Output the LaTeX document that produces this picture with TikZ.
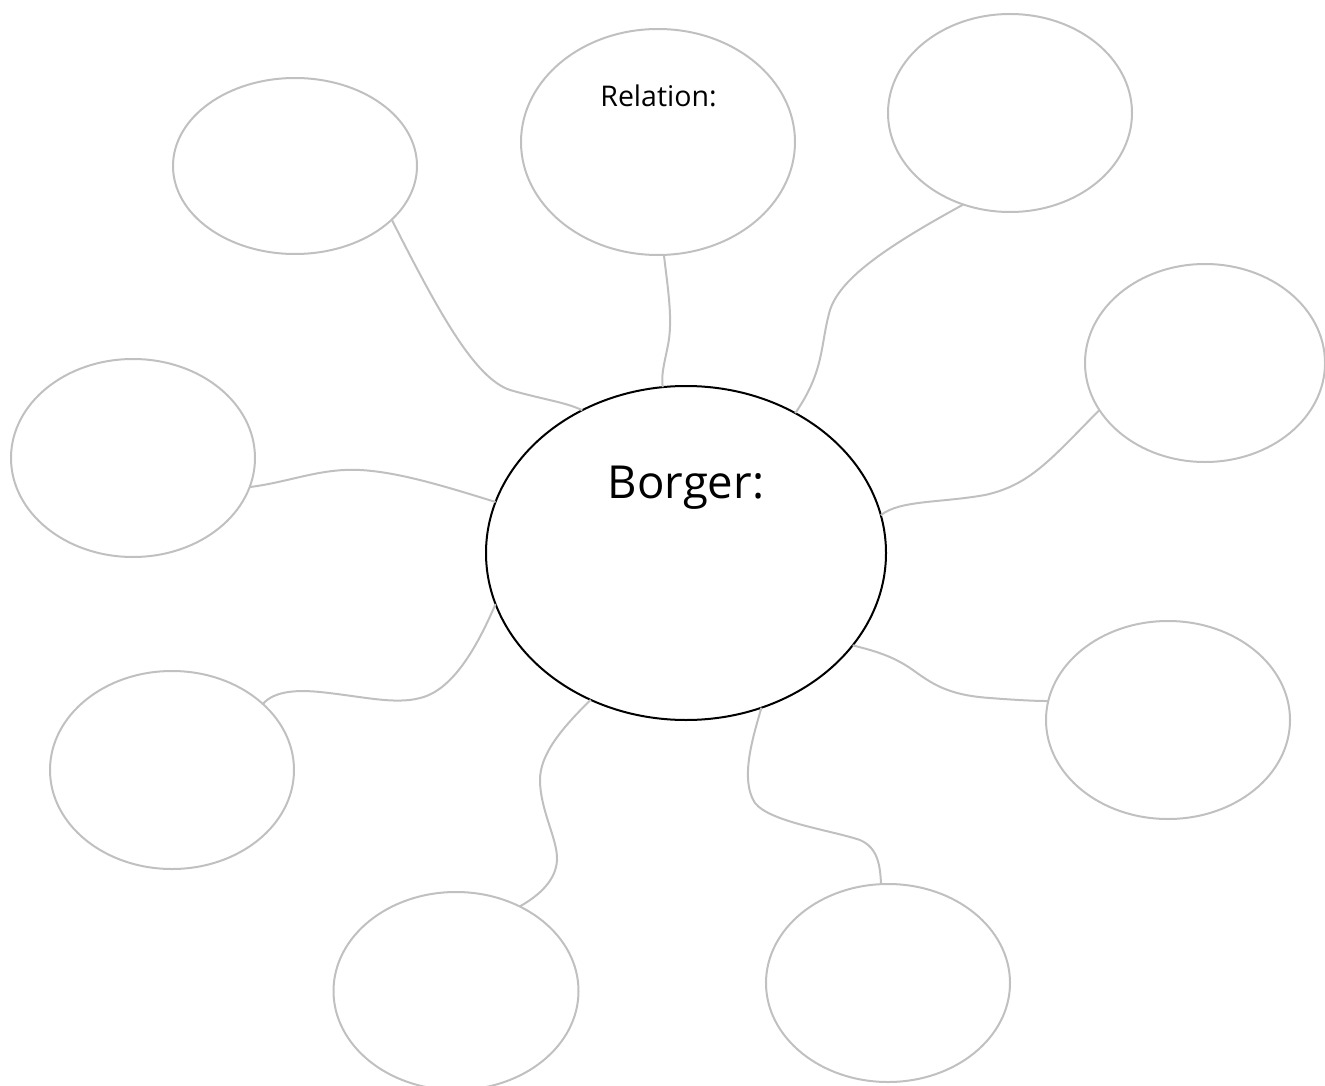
\documentclass[tikz,border=0pt]{standalone}
\usepackage{fontspec}
\setmainfont{Open Sans}
\usetikzlibrary{shapes.geometric}
\definecolor{linegray}{RGB}{192,192,192}
\tikzset{
  bubble/.style={ellipse, draw=linegray, line width=2pt, inner sep=0pt, outer sep=0pt},
  hub/.style={ellipse, draw=black, line width=2pt, inner sep=0pt, outer sep=0pt},
  link/.style={draw=linegray, line width=2pt}
}
\begin{document}
\begin{tikzpicture}[x=1pt,y=-1pt]
\useasboundingbox (0,0) rectangle (1325,1086);
% bubbles
\node[bubble, minimum width=244pt, minimum height=176pt] (tl) at (295,166) {};
\node[bubble, minimum width=274pt, minimum height=226pt] (tm) at (658,142) {};
\node[bubble, minimum width=244pt, minimum height=198pt] (tr) at (1010,113) {};
\node[bubble, minimum width=240pt, minimum height=198pt] (ru) at (1205,363) {};
\node[bubble, minimum width=244pt, minimum height=198pt] (l) at (133,458) {};
\node[bubble, minimum width=244pt, minimum height=198pt] (rl) at (1168,720) {};
\node[bubble, minimum width=244pt, minimum height=198pt] (ll) at (172,770) {};
\node[bubble, minimum width=245pt, minimum height=198pt] (bl) at (456,991) {};
\node[bubble, minimum width=244pt, minimum height=198pt] (br) at (888,983) {};
\node[hub, minimum width=400pt, minimum height=334pt] (c) at (686,553) {};
% texts
\node[anchor=base, font=\fontsize{28.5pt}{34pt}\selectfont, inner sep=0pt] (rel) at (658.5,107) {Relation:};
\node[anchor=base, font=\fontsize{45.5pt}{54pt}\selectfont, inner sep=0pt] (bor) at (686,498) {Borger:};
% connectors
\draw[link] (tl.-29) .. controls (440,315) and (475,378) .. (510,390)
  .. controls (545,400) and (565,402) .. (c.126.5);
\draw[link] (tm.-87.4) .. controls (668,290) and (673,320) .. (668,345)
  .. controls (664,365) and (661,375) .. (c.98);
\draw[link] (tr.-117) .. controls (880,250) and (840,280) .. (830,310)
  .. controls (820,345) and (825,370) .. (c.52.7);
\draw[link] (ru.-156.8) .. controls (1050,460) and (1030,485) .. (985,495)
  .. controls (940,503) and (900,500) .. (c.11.5);
\draw[link] (l.-14.8) .. controls (290,482) and (320,468) .. (360,470)
  .. controls (400,472) and (450,488) .. (c.165.5);
\draw[link] (c.-29.4) .. controls (880,652) and (895,658) .. (910,668)
  .. controls (930,682) and (945,695) .. (990,698)
  .. controls (1015,700) and (1035,701) .. (rl.171);
\draw[link] (ll.36.4) .. controls (275,690) and (300,690) .. (320,692)
  .. controls (360,696) and (395,705) .. (420,698)
  .. controls (455,690) and (480,640) .. (c.-165.5);
\draw[link] (c.-123) .. controls (560,730) and (540,755) .. (540,780)
  .. controls (540,810) and (558,840) .. (557,860)
  .. controls (556,880) and (540,895) .. (bl.53);
\draw[link] (c.-64.8) .. controls (752,740) and (740,780) .. (755,803)
  .. controls (770,822) and (830,830) .. (860,840)
  .. controls (878,848) and (880,865) .. (br.94.8);
\end{tikzpicture}
\end{document}
